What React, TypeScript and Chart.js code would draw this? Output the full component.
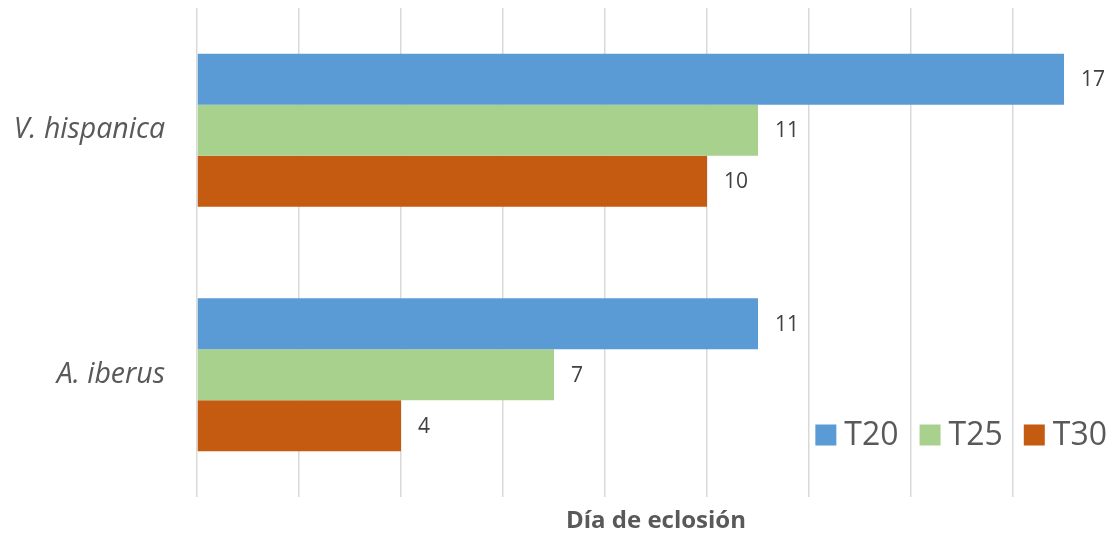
import React, { useEffect, useRef } from "react";
import { Chart, registerables } from "chart.js";

Chart.register(...registerables);

// Species on the category axis and hatching day per incubation temperature
const categories = ["V. hispanica", "A. iberus"];
const seriesNames = ["T20", "T25", "T30"];
const t20Values = [17, 11];
const t25Values = [11, 7];
const t30Values = [10, 4];
const seriesColors = ["#5B9BD5", "#A9D18E", "#C55A11"];
const axisTitle = "Día de eclosión";
const xMin = 0;
const xMax = 18;
const xStep = 2;

const FONT = "'Open Sans', 'DejaVu Sans', sans-serif";

// Writes each bar's value just past its end
const valueLabels = {
  id: "valueLabels",
  afterDatasetsDraw(chart: any) {
    const ctx = chart.ctx;
    ctx.save();
    ctx.font = `21px ${FONT}`;
    ctx.fillStyle = "#404040";
    ctx.textAlign = "left";
    ctx.textBaseline = "middle";
    chart.data.datasets.forEach((ds: any, i: number) => {
      const meta = chart.getDatasetMeta(i);
      meta.data.forEach((bar: any, j: number) => {
        ctx.fillText(String(ds.data[j]), bar.x + 17, bar.y + 1);
      });
    });
    ctx.restore();
  },
};

// Legend placed in the lower right corner of the plot area
const cornerLegend = {
  id: "cornerLegend",
  afterDraw(chart: any) {
    const ctx = chart.ctx;
    const area = chart.chartArea;
    const box = 21;
    const boxGap = 8;
    const itemGap = 21;
    ctx.save();
    ctx.font = `32px ${FONT}`;
    const items = chart.data.datasets.map((ds: any) => ({
      label: ds.label,
      color: ds.backgroundColor,
      w: ctx.measureText(ds.label).width,
    }));
    const total =
      items.reduce((s: number, it: any) => s + box + boxGap + it.w, 0) +
      itemGap * (items.length - 1);
    let x = area.right - 8 - total;
    const cy = area.bottom - 62;
    ctx.textBaseline = "middle";
    ctx.textAlign = "left";
    items.forEach((it: any) => {
      ctx.fillStyle = it.color;
      ctx.fillRect(x, cy - box / 2, box, box);
      x += box + boxGap;
      ctx.fillStyle = "#595959";
      ctx.fillText(it.label, x, cy + 1);
      x += it.w + itemGap;
    });
    ctx.restore();
  },
};

export default function App() {
  const canvasRef = useRef<HTMLCanvasElement | null>(null);

  useEffect(() => {
    if (!canvasRef.current) return;
    const values = [t20Values, t25Values, t30Values];
    const chart = new Chart(canvasRef.current, {
      type: "bar",
      data: {
        labels: categories,
        datasets: seriesNames.map((name, i) => ({
          label: name,
          data: values[i],
          backgroundColor: seriesColors[i],
          borderWidth: 0,
          categoryPercentage: 0.625,
          barPercentage: 1,
        })),
      },
      options: {
        indexAxis: "y",
        responsive: false,
        animation: false,
        devicePixelRatio: 1,
        layout: { padding: { top: 8, right: 0, left: 0, bottom: 0 } },
        plugins: {
          legend: { display: false },
          tooltip: { enabled: false },
        },
        scales: {
          x: {
            min: xMin,
            max: xMax,
            ticks: { display: false, stepSize: xStep },
            grid: {
              drawTicks: false,
              lineWidth: 1.5,
              color: (c: any) =>
                c.tick && c.tick.value === xMax ? "rgba(0,0,0,0)" : "#D9D9D9",
            },
            border: { display: false },
            title: {
              display: true,
              text: axisTitle,
              color: "#595959",
              font: { family: FONT, size: 24, weight: "bold", lineHeight: 1 },
              padding: { top: 12, bottom: 2 },
            },
            afterFit(scale: any) {
              scale.height = 38;
              scale.paddingLeft = 0;
              scale.paddingRight = 0;
            },
          },
          y: {
            grid: { display: false, drawTicks: false },
            border: { display: false },
            ticks: {
              color: "#595959",
              padding: 32,
              font: { family: FONT, size: 28.5, style: "italic" },
            },
            afterFit(scale: any) {
              scale.width = 197;
              scale.paddingTop = 0;
              scale.paddingBottom = 0;
            },
          },
        },
      },
      plugins: [valueLabels, cornerLegend],
    } as any);
    return () => chart.destroy();
  }, []);

  return (
    <div style={{ position: "absolute", left: 0, top: 0, width: 1115, height: 535, background: "#fff" }}>
      <canvas ref={canvasRef} width={1115} height={535} />
    </div>
  );
}
